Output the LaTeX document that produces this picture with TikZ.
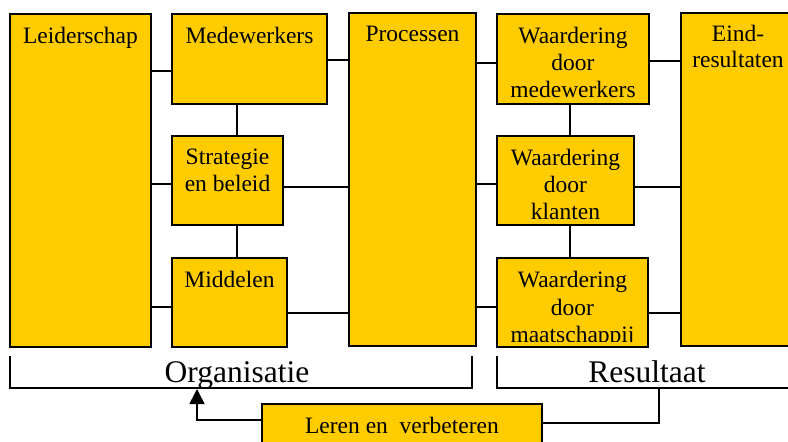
\documentclass[tikz,border=0pt]{standalone}
\usepackage{fontspec}
\setmainfont{Liberation Serif}
\usetikzlibrary{arrows.meta}
\definecolor{boxfill}{HTML}{FFCC00}
\tikzset{
  box/.style={draw=black, fill=boxfill, line width=2pt, inner sep=0pt, outer sep=0pt, rectangle},
  txt/.style={font={\fontsize{23.5}{27}\selectfont}, align=center, inner sep=0pt, anchor=north},
  conn/.style={draw=black, line width=1.6pt},
  brk/.style={draw=black, line width=1.8pt},
  big/.style={font={\fontsize{31.5}{36}\selectfont}, inner sep=0pt, anchor=base}
}
\begin{document}
\begin{tikzpicture}[x=1pt,y=-1pt]
\useasboundingbox (0,0) rectangle (788,442);
\clip (0,0) rectangle (788,442);
% boxes
\node[box, minimum width=141pt, minimum height=333pt] (lead) at (80.5,180.5) {};
\node[box, minimum width=155pt, minimum height=90pt] (med) at (249.5,59) {};
\node[box, minimum width=111pt, minimum height=89pt] (strat) at (227.5,180.5) {};
\node[box, minimum width=115pt, minimum height=89pt] (midd) at (229.5,302.5) {};
\node[box, minimum width=127pt, minimum height=333pt] (proc) at (412.5,179.5) {};
\node[box, minimum width=152pt, minimum height=90pt] (wmed) at (573,59) {};
\node[box, minimum width=137pt, minimum height=89pt] (wkl) at (565.5,180.5) {};
\node[box, minimum width=151pt, minimum height=89pt] (wmaat) at (572.5,302.5) {};
\node[box, minimum width=114pt, minimum height=333pt] (eind) at (738,179.5) {};
\node[box, minimum width=280pt, minimum height=42pt, font={\fontsize{23.5}{27}\selectfont}] (leren) at (402,425) {Leren en\ \ verbeteren};
% texts
\node[txt] (tlead) at ([yshift=-13pt]lead.north) {Leiderschap};
\node[txt] (tmed) at ([yshift=-13pt]med.north) {Medewerkers};
\node[txt] (tstrat) at ([yshift=-13pt]strat.north) {Strategie\\en beleid};
\node[txt] (tmidd) at ([yshift=-13pt]midd.north) {Middelen};
\node[txt] (tproc) at ([yshift=-13pt]proc.north) {Processen};
\node[txt] (twmed) at ([yshift=-13pt]wmed.north) {Waardering\\door\\medewerkers};
\node[txt] (twkl) at ([yshift=-13pt]wkl.north) {Waardering\\door\\klanten};
\begin{scope}
\clip (498,259) rectangle (647,341);
\node[txt, font={\fontsize{23.5}{27.5}\selectfont}] (twmaat) at ([yshift=-13pt]wmaat.north) {Waardering\\door\\maatschappij};
\end{scope}
\node[txt, font={\fontsize{23.5}{26}\selectfont}] (teind) at ([yshift=-12pt]eind.north) {Eind-\\resultaten};
% horizontal connectors
\draw[conn] (lead.east |- 0,71) -- (med.west |- 0,71);
\draw[conn] (lead.east |- 0,184) -- (strat.west |- 0,184);
\draw[conn] (lead.east |- 0,307) -- (midd.west |- 0,307);
\draw[conn] (med.east |- 0,60) -- (proc.west |- 0,60);
\draw[conn] (strat.east |- 0,187) -- (proc.west |- 0,187);
\draw[conn] (midd.east |- 0,313) -- (proc.west |- 0,313);
\draw[conn] (proc.east |- 0,63) -- (wmed.west |- 0,63);
\draw[conn] (proc.east |- 0,184) -- (wkl.west |- 0,184);
\draw[conn] (proc.east |- 0,307) -- (wmaat.west |- 0,307);
\draw[conn] (wmed.east |- 0,61) -- (eind.west |- 0,61);
\draw[conn] (wkl.east |- 0,187) -- (eind.west |- 0,187);
\draw[conn] (wmaat.east |- 0,313) -- (eind.west |- 0,313);
% vertical connectors
\draw[conn] (237,0 |- med.south) -- (237,0 |- strat.north);
\draw[conn] (237,0 |- strat.south) -- (237,0 |- midd.north);
\draw[conn] (570,0 |- wmed.south) -- (570,0 |- wkl.north);
\draw[conn] (570,0 |- wkl.south) -- (570,0 |- wmaat.north);
% brackets
\draw[brk] (10,356) -- (10,388) -- (472,388) -- (472,356);
\draw[brk] (497,356) -- (497,388) -- (792,388);
\node[big] (org) at (237,382) {Organisatie};
\node[big] (res) at (647,382) {Resultaat};
% feedback
\coordinate (orgarrow) at (197,389);
\coordinate (resbr) at (659,388);
\draw[conn, -{Triangle[width=15pt,length=15pt]}] ([yshift=5pt]leren.west) -| (orgarrow);
\draw[conn] (resbr) |- ([yshift=2pt]leren.east);
\end{tikzpicture}
\end{document}
